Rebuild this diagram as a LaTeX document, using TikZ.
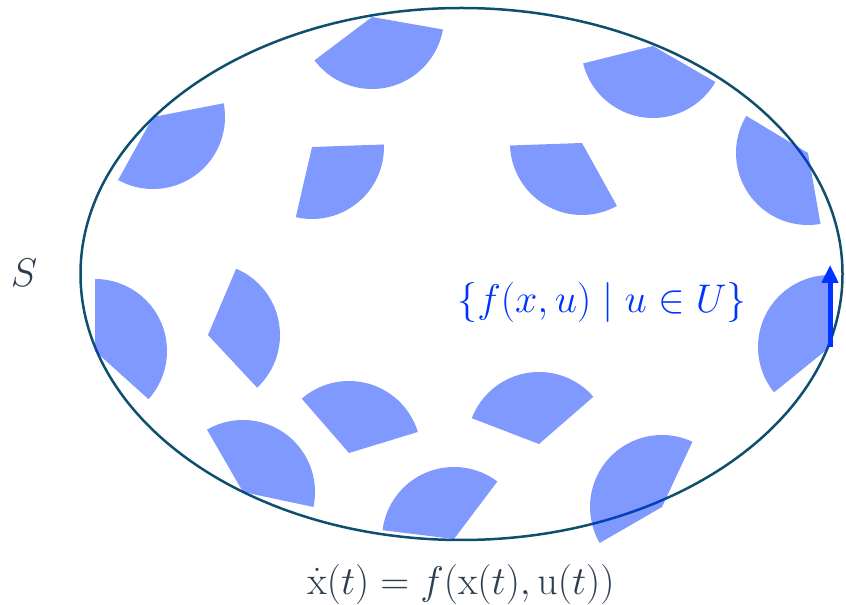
\RequirePackage{fix-cm}
\documentclass[tikz,border=0pt]{standalone}
\usepackage{amsmath}
\usepackage{tikz}
\usepackage{xcolor}
\usetikzlibrary{arrows.meta}

\definecolor{setblue}{RGB}{0,51,255}
\definecolor{rimteal}{RGB}{14,79,110}
\definecolor{slate}{RGB}{44,62,80}

\tikzset{
  reach/.style={fill=setblue,fill opacity=0.5},
  rim/.style={draw=rimteal,line width=2.5pt},
  maths/.style={inner sep=0pt,font=\fontsize{40}{48}\selectfont}
}

\begin{document}
\begin{tikzpicture}[x=1pt,y=1pt]
  \useasboundingbox (0,0) rectangle (846,605);
  \draw[rim] (461.5,331) ellipse [x radius=381, y radius=266];
  % reachable velocity sets
  \fill[reach] (372,588) -- ++(217:72) arc[start angle=217,end angle=350,radius=72] -- cycle;
  \fill[reach] (153,488) -- ++(241:72) arc[start angle=241,end angle=371,radius=72] -- cycle;
  \fill[reach] (312,458) -- ++(257:72) arc[start angle=257,end angle=362,radius=72] -- cycle;
  \fill[reach] (653,559) -- ++(194:72) arc[start angle=194,end angle=330,radius=72] -- cycle;
  \fill[reach] (582,462) -- ++(182:72) arc[start angle=182,end angle=299,radius=72] -- cycle;
  \fill[reach] (808,452) -- ++(149:72) arc[start angle=149,end angle=280,radius=72] -- cycle;
  \fill[reach] (830,258) -- ++(90:72) arc[start angle=90,end angle=219,radius=72] -- cycle;
  \fill[reach] (95,254) -- ++(-42:72) arc[start angle=-42,end angle=90,radius=72] -- cycle;
  \fill[reach] (208,270) -- ++(-47:72) arc[start angle=-47,end angle=67,radius=72] -- cycle;
  \fill[reach] (349,152) -- ++(17:72) arc[start angle=17,end angle=131,radius=72] -- cycle;
  \fill[reach] (243,113) -- ++(-12:72) arc[start angle=-12,end angle=120,radius=72] -- cycle;
  \fill[reach] (454,66) -- ++(53:72) arc[start angle=53,end angle=173,radius=72] -- cycle;
  \fill[reach] (539,161) -- ++(41:72) arc[start angle=41,end angle=159,radius=72] -- cycle;
  \fill[reach] (662,98) -- ++(65:72) arc[start angle=65,end angle=210,radius=72] -- cycle;
  % one velocity
  \coordinate (base) at (830,258);
  \coordinate (tip) at (830,340);
  \draw[setblue,line width=5pt,-{Triangle[width=16pt,length=18pt]}] (base) -- (tip);
  \node[maths,text=slate] (setS) at (24,332.5) {$S$};
  \node[maths,text=setblue] (velset) at (602,302) {$\{f(x,u)\mid u\in U\}$};
  \node[maths,text=slate] (dyn) at (461,20) {$\dot{\mathrm{x}}(t)=f(\mathrm{x}(t),\mathrm{u}(t))$};
\end{tikzpicture}
\end{document}
